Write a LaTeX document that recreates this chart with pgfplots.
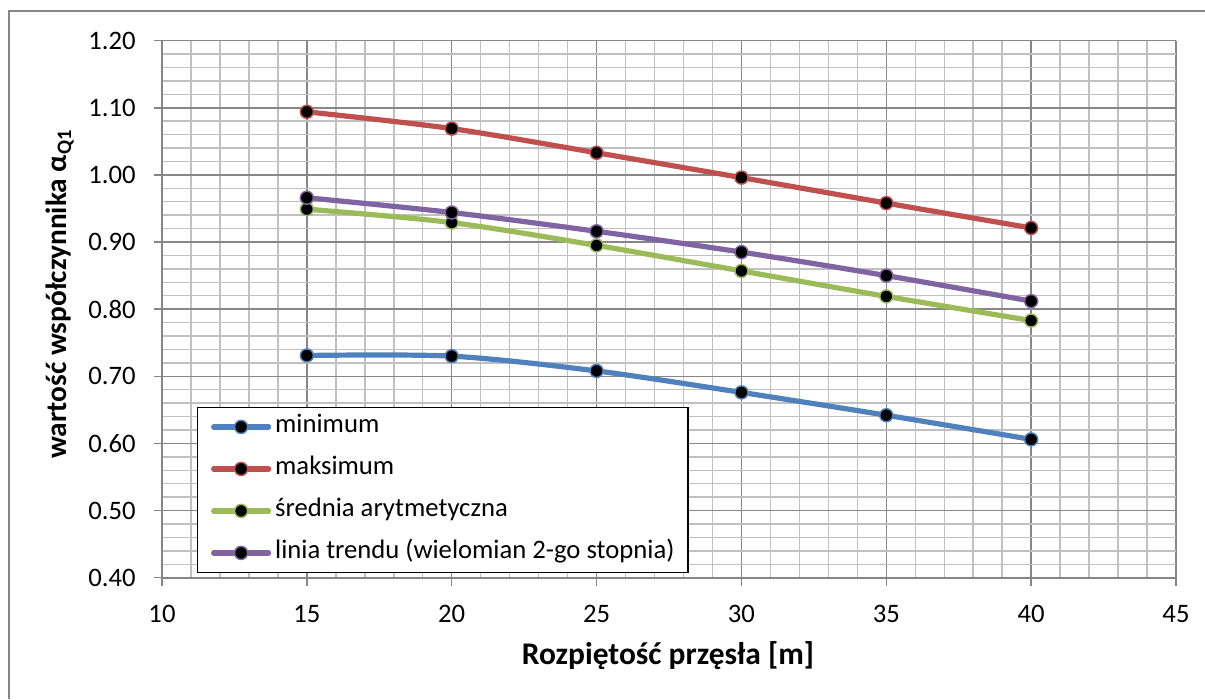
\documentclass[border=0pt]{standalone}
\usepackage{fontspec}
\setmainfont{Carlito}
\usepackage{pgfplots}
\pgfplotsset{compat=1.18}
\definecolor{cblue}{HTML}{4F81BD}
\definecolor{cred}{HTML}{C0504D}
\definecolor{cgreen}{HTML}{9BBB59}
\definecolor{cpurple}{HTML}{8064A2}
\definecolor{majgrid}{HTML}{878787}
\definecolor{mingrid}{HTML}{C0C0C0}
\definecolor{frame}{HTML}{868686}
\begin{document}
\begin{tikzpicture}
\path[use as bounding box] (0,0) rectangle (903.75pt,524.25pt);
\draw[frame, line width=1.5pt] (903.75pt,516pt) -- (6.75pt,516pt) -- (6.75pt,0pt);
\begin{axis}[
  at={(121.5pt,91pt)}, anchor=south west,
  scale only axis, width=760.5pt, height=402.75pt,
  xmin=10, xmax=45, ymin=0.4, ymax=1.2,
  xtick={10,15,...,45},
  ytick={0.4,0.5,...,1.21},
  minor x tick num=4, minor y tick num=4,
  grid=both,
  major grid style={majgrid, line width=1.1pt},
  minor grid style={mingrid, line width=1.1pt},
  axis x line*=bottom, axis y line*=left,
  axis line style={frame, line width=1.3pt, -},
  tick style={frame, line width=1.1pt},
  tick align=outside, major tick length=6pt, minor tick length=0pt,
  /pgf/number format/assume math mode=true,
  yticklabel={\pgfmathprintnumber[fixed, fixed zerofill, precision=2]{\tick}},
  ticklabel style={font=\fontsize{20}{24}\selectfont},
  yticklabel style={inner sep=0pt, xshift=-13.5pt},
  xticklabel style={inner sep=0pt, yshift=-14.25pt},
  xlabel={Rozpiętość przęsła [m]},
  ylabel={wartość współczynnika α\textsubscript{Q1}},
  xlabel style={font=\fontsize{23.6}{27}\selectfont\bfseries, at={(axis description cs:0.499,-0.146)}, anchor=center},
  ylabel style={font=\fontsize{22}{26}\selectfont\bfseries, at={(axis description cs:-0.1006,0.528)}, anchor=center, rotate=0},
  legend style={at={(0.0345,0.0087)}, anchor=south west, draw=black, line width=1.1pt,
    font=\fontsize{20}{24}\selectfont, inner xsep=10pt, inner ysep=6pt,
    row sep=14.5pt, column sep=3pt,
    nodes={inner sep=0pt, text height=13pt, text depth=4pt}},
  legend cell align=left,
  legend image code/.code={
    \draw[#1, mark repeat=2, mark phase=2] plot coordinates {(0pt,0pt) (20.6pt,0pt) (41.2pt,0pt)};
  },
  every axis plot/.append style={line width=3.9pt, smooth, line cap=round, mark=*, mark size=4.9pt},
]
\addplot[cblue, mark options={draw=cblue, fill=black, line width=1.1pt, solid}] coordinates {(15,0.731) (20,0.730) (25,0.708) (30,0.676) (35,0.642) (40,0.606)};
\addlegendentry{minimum}
\addplot[cred, mark options={draw=cred, fill=black, line width=1.1pt, solid}] coordinates {(15,1.094) (20,1.069) (25,1.033) (30,0.996) (35,0.958) (40,0.921)};
\addlegendentry{maksimum}
\addplot[cgreen, mark options={draw=cgreen, fill=black, line width=1.1pt, solid}] coordinates {(15,0.949) (20,0.929) (25,0.895) (30,0.857) (35,0.819) (40,0.783)};
\addlegendentry{średnia arytmetyczna}
\addplot[cpurple, mark options={draw=cpurple, fill=black, line width=1.1pt, solid}] coordinates {(15,0.966) (20,0.944) (25,0.916) (30,0.885) (35,0.850) (40,0.812)};
\addlegendentry{linia trendu (wielomian 2-go stopnia)}
\end{axis}
\end{tikzpicture}
\end{document}
